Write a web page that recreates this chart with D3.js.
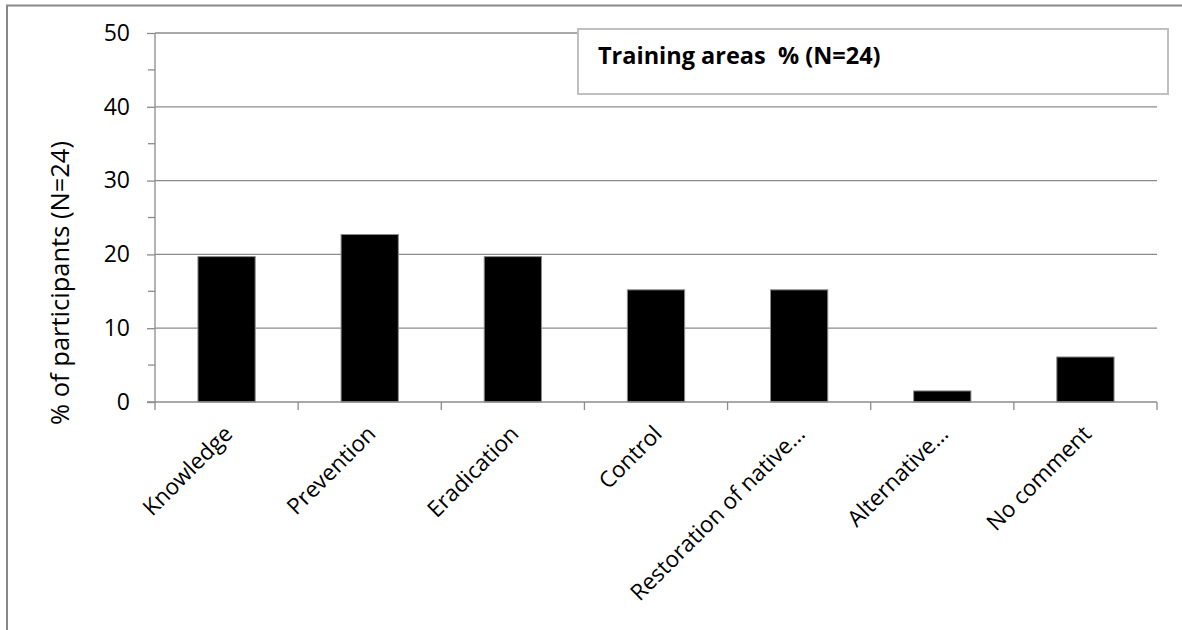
<!DOCTYPE html>
<html><head><meta charset="utf-8">
<script src="https://cdn.jsdelivr.net/npm/d3@7"></script>
<style>body{margin:0;background:#fff}svg{display:block}</style>
</head><body>
<svg id="c" width="1182" height="630"></svg>
<script>
const categories = ["Knowledge","Prevention","Eradication","Control","Restoration of native…","Alternative…","No comment"];
const values = [19.7, 22.7, 19.7, 15.2, 15.2, 1.5, 6.1];
const yTicks = [0,10,20,30,40,50];
const yMinorTicks = [5,15,25,35,45];
const legendLabel = "Training areas  % (N=24)";
const yTitle = "% of participants (N=24)";

const svg = d3.select("#c");
const font = "'Open Sans', 'Noto Sans', sans-serif";
// outer border
svg.append("rect").attr("x",7).attr("y",5.5).attr("width",1200).attr("height",700)
  .attr("fill","none").attr("stroke","#888").attr("stroke-width",2);

const L=155, R=1157, T=33, B=402;
const x = d3.scaleBand().domain(categories).range([L,R]).paddingInner(0.6).paddingOuter(0.3);
const xb = d3.scaleLinear().domain([0,categories.length]).range([L,R]);
const y = d3.scaleLinear().domain([0,50]).range([B,T]);

// gridlines
svg.append("g").selectAll("line").data(yTicks.filter(d=>d>0)).join("line")
  .attr("x1",L).attr("x2",R).attr("y1",d=>y(d)).attr("y2",d=>y(d))
  .attr("stroke","#8c8c8c").attr("stroke-width",1.3);

// bars
svg.append("g").selectAll("rect").data(values).join("rect")
  .attr("x",(d,i)=>x(categories[i])).attr("width",x.bandwidth())
  .attr("y",d=>y(d)).attr("height",d=>B-y(d))
  .attr("fill","#000").attr("stroke","#8c8c8c").attr("stroke-width",1);

// y axis
const ya = svg.append("g").attr("transform",`translate(${L},0)`)
  .call(d3.axisLeft(y).tickValues(yTicks).tickSize(8).tickPadding(17).tickFormat(d3.format("d")));
ya.select(".domain").attr("stroke","#8c8c8c").attr("stroke-width",1.3).attr("d",`M0,${T}V${B}`);
ya.selectAll(".tick line").attr("stroke","#8c8c8c").attr("stroke-width",1.3);
ya.selectAll("text").attr("font-family",font).attr("font-size",23).attr("fill","#000");
svg.append("g").selectAll("line").data(yMinorTicks).join("line")
  .attr("x1",L-7).attr("x2",L).attr("y1",d=>y(d)).attr("y2",d=>y(d))
  .attr("stroke","#8c8c8c").attr("stroke-width",1.3);

// x axis
svg.append("line").attr("x1",L-8).attr("x2",R).attr("y1",B).attr("y2",B)
  .attr("stroke","#8c8c8c").attr("stroke-width",1.3);
svg.append("g").selectAll("line").data(d3.range(categories.length+1)).join("line")
  .attr("x1",d=>xb(d)).attr("x2",d=>xb(d)).attr("y1",B).attr("y2",B+8)
  .attr("stroke","#8c8c8c").attr("stroke-width",1.3);
svg.append("g").selectAll("text").data(categories).join("text")
  .attr("transform",d=>`translate(${x(d)+x.bandwidth()/2+3},${B+29}) rotate(-45)`)
  .attr("text-anchor","end").attr("dominant-baseline","middle")
  .attr("font-family",font).attr("font-size",22.5).attr("fill","#000").text(d=>d);

// y title
svg.append("text").attr("transform",`translate(69,283) rotate(-90)`)
  .attr("text-anchor","middle").attr("font-family",font).attr("font-size",25.5).attr("fill","#000").text(yTitle);

// legend box
svg.append("rect").attr("x",578).attr("y",29).attr("width",590).attr("height",65)
  .attr("fill","#fff").attr("stroke","#c0c0c0").attr("stroke-width",2);
svg.append("text").attr("x",598).attr("y",64).attr("font-family",font).attr("font-weight","bold")
  .attr("font-size",23.5).attr("fill","#000").style("white-space","pre").text(legendLabel);
</script>
</body></html>
